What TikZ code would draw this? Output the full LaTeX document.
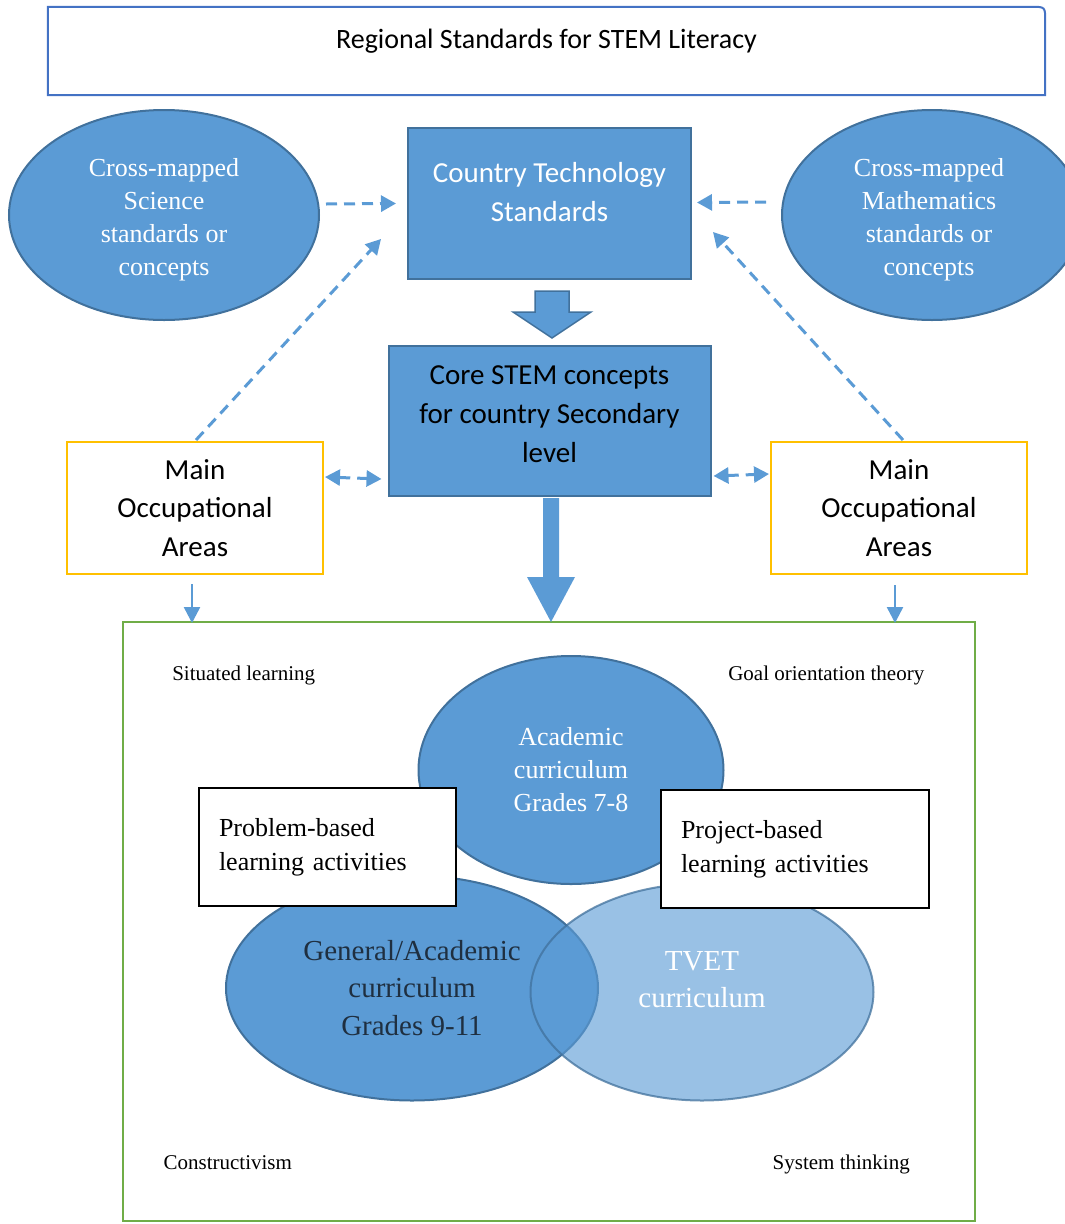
\documentclass[tikz,border=0pt]{standalone}
\usepackage{fontspec}
\setmainfont{Liberation Serif}
\newfontfamily\calibfont{Carlito}
\usepackage{tikz}
\usetikzlibrary{positioning,arrows.meta,shapes.geometric,calc}
\definecolor{fillblue}{HTML}{5B9BD5}
\definecolor{edgeblue}{HTML}{41719C}
\definecolor{titleblue}{HTML}{4472C4}
\definecolor{moayellow}{HTML}{FFC000}
\definecolor{framegreen}{HTML}{70AD47}
\definecolor{navytext}{HTML}{1F2F40}

\begin{document}
\begin{tikzpicture}[x=1pt,y=-1pt,
  bluebox/.style={draw=edgeblue,line width=2pt,fill=fillblue,inner sep=0pt},
  boxlabel/.style={align=center,font=\calibfont\fontsize{29}{39}\selectfont},
  stdellipse/.style={ellipse,draw=edgeblue,line width=2pt,fill=fillblue,inner sep=0pt,
    text=white,align=center,font=\fontsize{26}{33}\selectfont},
  ellipselabel/.style={text=white,align=center,font=\fontsize{26}{33}\selectfont},
  areabox/.style={draw=moayellow,line width=2pt,fill=white,minimum width=256,minimum height=132,
    inner sep=0pt,align=center,font=\calibfont\fontsize{29}{38.5}\selectfont},
  actbox/.style={draw=black,line width=1.2pt,fill=white,minimum height=118,inner xsep=20pt,
    align=left,font=\fontsize{26}{34}\selectfont},
  theory/.style={text height=15pt,text depth=4pt,font=\fontsize{21}{25}\selectfont},
  dasharrow/.style={draw=fillblue,line width=3pt,dash pattern=on 11pt off 7pt,
    -{Triangle[length=15pt,width=16pt]}},
  dashboth/.style={dasharrow,{Triangle[length=15pt,width=16pt]}-{Triangle[length=15pt,width=16pt]}},
  thinarrow/.style={draw=fillblue,line width=2.5pt,-{Triangle[length=16pt,width=16pt]}},
  blockarrow/.style={fill=fillblue,line join=miter}
]
\useasboundingbox (0,0) rectangle (1065,1224);

% Title banner
\node[minimum width=997,minimum height=88,inner sep=0pt,
  label={[font=\calibfont\fontsize{28}{34}\selectfont,yshift=10pt]center:Regional Standards for STEM Literacy}] (title) at (546.5,51) {};
\draw[titleblue,line width=2pt] (title.south west) -- (title.north west)
  -- ($(title.north east)+(-14,0)$) .. controls (title.north east) .. ($(title.north east)+(0,14)$)
  -- (title.south east) -- cycle;

% Standards row
\node[stdellipse,minimum width=310,minimum height=210,
  label={[ellipselabel,yshift=-5pt]center:Cross-mapped\\Science\\standards or\\concepts}] (sci) at (164,215) {};
\node[stdellipse,minimum width=300,minimum height=210,
  label={[ellipselabel,xshift=-3pt,yshift=-5pt]center:Cross-mapped\\Mathematics\\standards or\\concepts}] (math) at (932,215) {};
\node[bluebox,minimum width=283,minimum height=151,
  label={[boxlabel,text=white,yshift=11pt]center:Country Technology\\Standards}] (cts) at (549.5,203.5) {};
\node[bluebox,minimum width=322,minimum height=150,below=65pt of cts,
  label={[boxlabel,yshift=7pt]center:Core STEM concepts\\for country Secondary\\level}] (core) {};
\node[areabox] (moaL) at (195,508) {Main\\Occupational\\Areas};
\node[areabox] (moaR) at (899,508) {Main\\Occupational\\Areas};

% Block arrows
\coordinate (tipA) at (552,338);
\begin{scope}[shift={(tipA)}]
  \filldraw[blockarrow,draw=edgeblue,line width=1.5pt] (-17,-47) -- (17,-47) -- (17,-26) -- (39,-26)
    -- (0,0) -- (-39,-26) -- (-17,-26) -- cycle;
\end{scope}

% Curriculum frame
\node[draw=framegreen,line width=2.5pt,minimum width=852,minimum height=599,inner sep=0pt] (frame) at (549,921.5) {};
\coordinate (tipB) at (551,622);
\begin{scope}[shift={(tipB)}]
  \fill[blockarrow] (-8,-124) -- (8,-124) -- (8,-45) -- (24,-45) -- (0,0) -- (-24,-45) -- (-8,-45) -- cycle;
\end{scope}

% Dashed links
\draw[dasharrow] ($(sci.east)+(6,-11)$) -- ($(cts.west)+(-11,0)$);
\draw[dasharrow] ($(math.west)+(-15,-13)$) -- ($(cts.east)+(5,-1)$);
\draw[dasharrow] ($(moaL.north)+(1,-1)$) -- ($(cts.south west)+(-26,-41)$);
\draw[dasharrow] ($(moaR.north)+(4,-1)$) -- ($(cts.south east)+(21,-48)$);
\draw[dashboth] ($(moaL.east)+(1,-31)$) -- ($(core.west)+(-6,58)$);
\draw[dashboth] ($(core.east)+(2,55)$) -- ($(moaR.west)+(-1,-34)$);
\draw[thinarrow] ($(moaL.south)+(-3,9)$) -- ($(moaL.south)+(-3,48)$);
\draw[thinarrow] ($(moaR.south)+(-4,10)$) -- ($(moaR.south)+(-4,48)$);

% Theories
\node[theory] (situated) at ($(frame.north west)+(122,54.5)$) {Situated learning};
\node[theory] (goal) at ($(frame.north east)+(-150,54.5)$) {Goal orientation theory};
\node[theory] (construct) at ($(frame.south west)+(106,-58.5)$) {Constructivism};
\node[theory] (system) at ($(frame.south east)+(-135,-58.5)$) {System thinking};

% Curricula
\node[stdellipse,minimum width=305,minimum height=228] (acad) at (571,770) {Academic\\curriculum\\Grades 7-8};
\node[stdellipse,minimum width=372,minimum height=225,text=navytext,font=\fontsize{29}{37.5}\selectfont] (gen) at (412,988) {General/Academic\\curriculum\\Grades 9-11};
\node[stdellipse,minimum width=343,minimum height=217,fill opacity=0.62,draw opacity=0.75,
  label={[text=white,align=center,font=\fontsize{29}{37}\selectfont,yshift=12pt]center:TVET\\curriculum}] (tvet) at (702,992) {};
\node[actbox,minimum width=257,text width=217] (problem) at (327.5,847) {Problem-based\\learning activities};
\node[actbox,minimum width=268,text width=228] (project) at (795,849) {Project-based\\learning activities};

\end{tikzpicture}
\end{document}
